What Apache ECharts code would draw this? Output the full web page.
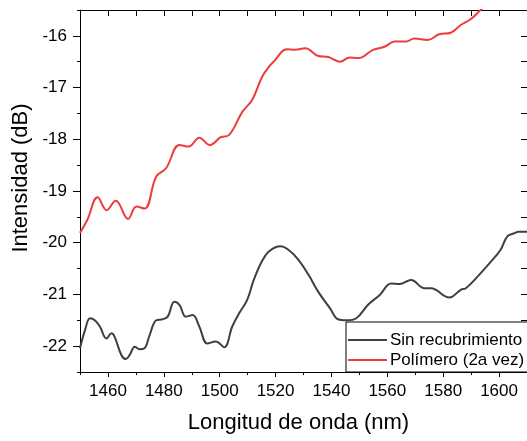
<!DOCTYPE html>
<html>
<head>
<meta charset="utf-8">
<script src="https://cdn.jsdelivr.net/npm/echarts@6/dist/echarts.min.js"></script>
<style>
html,body{margin:0;padding:0;background:#fff;}
#chart{width:527px;height:441px;}
</style>
</head>
<body>
<div id="chart"></div>
<script>
// ---- Data ----
var seriesNames = ['Sin recubrimiento', 'Polímero (2a vez)'];

var sinWavelength = [1450, 1451.8, 1453.6, 1455.3, 1457.1, 1459.5, 1461.3, 1462.4, 1464.8, 1466.4, 1467.8, 1469.6, 1471.3, 1473.1, 1474.9, 1477.3, 1479.6, 1481.4, 1483.8, 1485.6, 1487.9, 1490.3, 1492.7, 1495.6, 1498.6, 1501.6, 1504.5, 1506.9, 1509.8, 1512.2, 1515.2, 1517.6, 1521.7, 1524.7, 1528.2, 1531.8, 1535.3, 1539.5, 1542.4, 1545.4, 1548.9, 1553.1, 1557.3, 1561.4, 1564.4, 1568.5, 1573.3, 1575.6, 1582.2, 1586.3, 1588.1, 1592.2, 1597, 1600.5, 1602.9, 1605.3, 1607, 1610];
var sinIntensity = [-22.04, -21.69, -21.46, -21.5, -21.62, -21.85, -21.75, -21.82, -22.17, -22.25, -22.17, -22.01, -22.06, -22.04, -21.79, -21.5, -21.48, -21.43, -21.14, -21.2, -21.43, -21.4, -21.62, -21.95, -21.91, -22.02, -21.62, -21.37, -21.11, -20.72, -20.35, -20.17, -20.07, -20.14, -20.33, -20.62, -20.95, -21.27, -21.48, -21.5, -21.46, -21.2, -21.01, -20.79, -20.8, -20.72, -20.88, -20.88, -21.06, -20.91, -20.88, -20.66, -20.37, -20.14, -19.88, -19.82, -19.79, -19.79];

var polWavelength = [1450, 1452.6, 1456.3, 1459.5, 1462.8, 1467.2, 1470.2, 1473.1, 1477.3, 1480.8, 1485.6, 1488.9, 1492.7, 1496.5, 1500.4, 1503.3, 1508.1, 1511.6, 1515.2, 1517.6, 1519.3, 1524.1, 1527, 1530.6, 1535.3, 1538.9, 1543, 1546.6, 1549.6, 1554.9, 1559, 1562.6, 1566.7, 1569.7, 1574.4, 1578.6, 1582.7, 1586.3, 1589.8, 1593.4, 1596.5];
var polIntensity = [-19.81, -19.56, -19.12, -19.37, -19.19, -19.54, -19.3, -19.34, -18.72, -18.56, -18.11, -18.14, -17.97, -18.11, -17.96, -17.92, -17.47, -17.24, -16.79, -16.6, -16.5, -16.26, -16.27, -16.24, -16.39, -16.41, -16.5, -16.42, -16.43, -16.27, -16.21, -16.11, -16.11, -16.05, -16.08, -15.97, -15.94, -15.79, -15.68, -15.5, -15.35];

var xLabelTicks = [1460, 1480, 1500, 1520, 1540, 1560, 1580, 1600];
var xMinorTicks = [1450, 1470, 1490, 1510, 1530, 1550, 1570, 1590, 1610];
var xTopTicks = [1450, 1460, 1470, 1480, 1490, 1500, 1510, 1520, 1530, 1540, 1550, 1560, 1570, 1580, 1590, 1600, 1610];
var yLabelTicks = [-22, -21, -20, -19, -18, -17, -16];
var yMinorTicks = [-22.5, -21.5, -20.5, -19.5, -18.5, -17.5, -16.5, -15.5];
var yAllTicks = yLabelTicks.concat(yMinorTicks);

function pairs(xs, ys) { return xs.map(function (x, i) { return [x, ys[i]]; }); }

var FONT = 'Liberation Sans, Arial, sans-serif';
var X_MIN = 1450, X_MAX = 1610, Y_MIN = -22.5, Y_MAX = -15.5;
var GRAY = '#3f3f3f', RED = '#ee3b3b';

var chart = echarts.init(document.getElementById('chart'), null, { renderer: 'canvas' });
var option = {
  animation: false,
  backgroundColor: '#ffffff',
  textStyle: { fontFamily: FONT },
  grid: { left: 80, top: 10, width: 450, height: 362, containLabel: false },
  legend: {
    orient: 'vertical',
    left: 346, top: 322,
    padding: [9, 12, 3, 2],
    itemGap: 2,
    itemWidth: 39,
    itemHeight: 2,
    icon: 'rect',
    borderColor: '#000', borderWidth: 1, borderRadius: 0,
    backgroundColor: '#fff',
    textStyle: { fontFamily: FONT, fontSize: 17, lineHeight: 18, color: '#000', padding: [0, 0, 0, -2] },
    data: seriesNames
  },
  xAxis: [
    {
      type: 'value', position: 'bottom', min: X_MIN, max: X_MAX,
      name: 'Longitud de onda (nm)', nameLocation: 'middle', nameGap: 40,
      nameTextStyle: { fontFamily: FONT, fontSize: 22, color: '#000', padding: [0, 10, 0, 0] },
      axisLine: { show: true, lineStyle: { color: '#000', width: 1 } },
      axisTick: { show: true, inside: false, length: 5, customValues: xLabelTicks, lineStyle: { color: '#000', width: 1 } },
      axisLabel: { show: true, customValues: xLabelTicks, margin: 11, fontFamily: FONT, fontSize: 17, color: '#000',
        formatter: function (v) { return String(v); } },
      splitLine: { show: false }
    },
    {
      type: 'value', position: 'bottom', min: X_MIN, max: X_MAX,
      axisLine: { show: false },
      axisTick: { show: true, inside: false, length: 3, customValues: xMinorTicks, lineStyle: { color: '#000', width: 1 } },
      axisLabel: { show: false },
      splitLine: { show: false }
    },
    {
      type: 'value', position: 'top', min: X_MIN, max: X_MAX,
      axisLine: { show: true, lineStyle: { color: '#000', width: 1 } },
      axisTick: { show: true, inside: true, length: 6, customValues: xTopTicks, lineStyle: { color: '#000', width: 1 } },
      axisLabel: { show: false },
      splitLine: { show: false }
    }
  ],
  yAxis: [
    {
      type: 'value', position: 'left', min: Y_MIN, max: Y_MAX,
      name: 'Intensidad (dB)', nameLocation: 'middle', nameGap: 44,
      nameTextStyle: { fontFamily: FONT, fontSize: 22, color: '#000', padding: [0, 0, 0, 26] },
      axisLine: { show: true, lineStyle: { color: '#000', width: 1 } },
      axisTick: { show: true, inside: false, length: 7, customValues: yLabelTicks, lineStyle: { color: '#000', width: 1 } },
      axisLabel: { show: true, customValues: yLabelTicks, margin: 13, fontFamily: FONT, fontSize: 17, color: '#000',
        formatter: function (v) { return String(v); } },
      splitLine: { show: false }
    },
    {
      type: 'value', position: 'left', min: Y_MIN, max: Y_MAX,
      axisLine: { show: false },
      axisTick: { show: true, inside: false, length: 3, customValues: yMinorTicks, lineStyle: { color: '#000', width: 1 } },
      axisLabel: { show: false },
      splitLine: { show: false }
    },
    {
      type: 'value', position: 'right', min: Y_MIN, max: Y_MAX,
      axisLine: { show: true, lineStyle: { color: '#000', width: 1 } },
      axisTick: { show: true, inside: true, length: 6, customValues: yAllTicks, lineStyle: { color: '#000', width: 1 } },
      axisLabel: { show: false },
      splitLine: { show: false }
    }
  ],
  series: [
    {
      name: seriesNames[0], type: 'line', xAxisIndex: 0, yAxisIndex: 0,
      data: pairs(sinWavelength, sinIntensity),
      smooth: 0.4, symbol: 'none', clip: true,
      lineStyle: { color: GRAY, width: 2 }, itemStyle: { color: GRAY }
    },
    {
      name: seriesNames[1], type: 'line', xAxisIndex: 0, yAxisIndex: 0,
      data: pairs(polWavelength, polIntensity),
      smooth: 0.4, symbol: 'none', clip: true,
      lineStyle: { color: RED, width: 2 }, itemStyle: { color: RED }
    }
  ]
};
chart.setOption(option);
</script>
</body>
</html>
